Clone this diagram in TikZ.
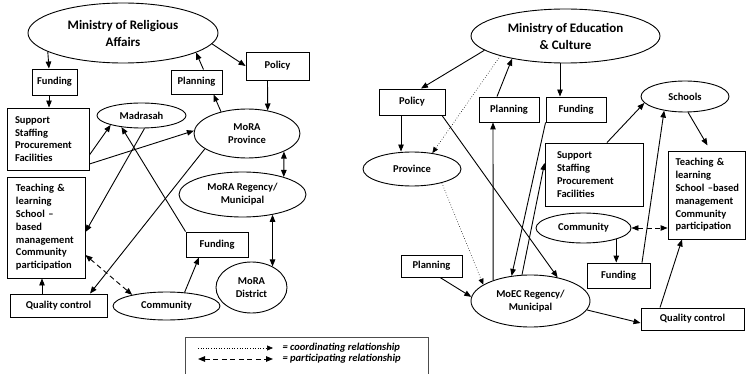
\documentclass[tikz,border=0pt]{standalone}
\usepackage{fontspec}
\setmainfont{Carlito}
\usetikzlibrary{shapes.geometric,arrows.meta,calc}
\begin{document}
\begin{tikzpicture}[x=1pt,y=-1pt,
 every node/.style={font=\fontsize{10.5}{12.8}\selectfont\bfseries},
 box/.style={draw,line width=0.9pt,inner sep=0pt,align=center},
 tbox/.style={draw,line width=0.9pt,inner xsep=8pt,inner ysep=0pt,align=left},
 ell/.style={draw,ellipse,line width=0.9pt,inner sep=0pt,align=center},
 title/.style={font=\fontsize{13}{17}\selectfont\bfseries},
 arr/.style={line width=0.9pt,-{Triangle[length=7pt,width=5.5pt]}},
 darr/.style={line width=0.9pt,{Triangle[length=7pt,width=5.5pt]}-{Triangle[length=7pt,width=5.5pt]}},
 dasharr/.style={darr,dash pattern=on 5pt off 3.5pt},
 dotarr/.style={line width=0.6pt,dotted,-{Triangle[length=6pt,width=5pt]}},
 legtext/.style={anchor=west,font=\fontsize{10.5}{12}\selectfont\bfseries\itshape},
]
\useasboundingbox (0,0) rectangle (747,374);

% ---------- left diagram ----------
\node[ell,title,minimum width=190,minimum height=60] (mra) at (123,33) {Ministry of Religious\\Affairs};
\node[box,minimum width=45,minimum height=26] (fund1) at (54.5,82) {Funding};
\node[box,minimum width=51,minimum height=24] (plan1) at (196.5,82) {Planning};
\node[box,minimum width=63,minimum height=28] (pol1) at (277.5,66) {Policy};
\node[tbox,text width=66,minimum height=62] (sup1) at (48,139) {Support\\Staffing\\Procurement\\Facilities};
\node[ell,minimum width=89,minimum height=25] (mad) at (141.5,115.5) {Madrasah};
\node[ell,minimum width=106,minimum height=49] (mprov) at (247,133.5) {MoRA\\Province};
\node[tbox,inner xsep=9,text width=60,minimum height=101] (teach1) at (46,227.5) {Teaching \&\\learning\\School –\\based\\management\\Community\\participation};
\node[box,minimum width=97,minimum height=23] (qc1) at (58.5,305.5) {Quality control};
\node[ell,minimum width=107,minimum height=28] (com1) at (166.5,306) {Community};
\node[box,minimum width=62,minimum height=25] (fund2) at (217,244.5) {Funding};
\node[ell,minimum width=127,minimum height=45] (mreg) at (242.5,194.5) {MoRA Regency/\\Municipal};
\node[ell,minimum width=71,minimum height=51] (mdist) at (251.5,287.5) {MoRA\\District};

\draw[arr] (mra.194) -- ([xshift=-5.5]fund1.north);
\draw[arr] ([xshift=-5.5]fund1.south) -- ([xshift=-5.5]fund1.south |- sup1.north);
\draw[arr] (mra.353) -- (pol1.west);
\draw[arr] ([xshift=7]plan1.north) -- (mra.-15.5);
\draw[arr] ([xshift=-10]pol1.south) -- (mprov.48.6);
\draw[arr] (mprov.140.8) -- ([xshift=17]plan1.south);
\draw[arr] ([yshift=-16]sup1.east) -- (mad.197);
\draw[arr] ([yshift=-25]sup1.east) -- (mprov.177);
\draw[arr] ([xshift=3]mad.south) -- ([yshift=-4.5]teach1.east);
\draw[arr] (fund2.north west) -- (mad.210.7);
\draw[arr] (mprov.200) -- ([xshift=31.5]qc1.north);
\draw[arr] ([xshift=-16.5]qc1.north) -- ([xshift=-16.5]qc1.north |- teach1.south);
\draw[dasharr] ([yshift=-27.5]teach1.east) -- (com1.162);
\draw[arr] (com1.37) -- ([xshift=-18]fund2.south);
\draw[darr] (mprov.-26.6) -- (mreg.23.1);
\draw[darr] (mreg.-34) -- (mdist.45.4);

% ---------- right diagram ----------
\node[ell,title,minimum width=189,minimum height=54] (moec) at (565.5,36) {Ministry of Education\\\& Culture};
\node[box,minimum width=66,minimum height=26] (pol2) at (412,102) {Policy};
\node[box,minimum width=60,minimum height=25] (plan2) at (509,109.5) {Planning};
\node[box,minimum width=60,minimum height=25] (fund3) at (576,109.5) {Funding};
\node[ell,minimum width=88,minimum height=31] (schools) at (685,96.5) {Schools};
\node[ell,minimum width=98,minimum height=34] (prov) at (412,169) {Province};
\node[tbox,inner xsep=12,text width=74,minimum height=63] (sup2) at (594,174.5) {Support\\Staffing\\Procurement\\Facilities};
\node[tbox,inner xsep=7.5,text width=62,minimum height=88] (teach2) at (706.5,195) {Teaching \&\\learning\\\mbox{School –based}\\management\\Community\\participation};
\node[ell,minimum width=95,minimum height=30] (com2) at (583.5,228) {Community};
\node[box,minimum width=63,minimum height=25] (fund4) at (618.5,275.5) {Funding};
\node[box,minimum width=61,minimum height=22] (plan3) at (431.5,266) {Planning};
\node[ell,minimum width=119,minimum height=52] (moreg) at (530.5,301) {MoEC Regency/\\Municipal};
\node[box,minimum width=103,minimum height=22] (qc2) at (692.5,319) {Quality control};

\draw[arr] (moec.190) -- ([xshift=9]pol2.north);
\draw[dotarr] (moec.197.5) -- (prov.38);
\draw[arr] ([xshift=-12]plan2.north) -- (moec.203);
\draw[arr] ([xshift=-16]fund3.north |- moec.south) -- ([xshift=-16]fund3.north);
\draw[arr] ([xshift=-11]pol2.south) -- ([xshift=-11]pol2.south |- prov.north);
\draw[arr] ([xshift=30]pol2.south) -- (moreg.41.3);
\draw[dotarr] (prov.-25) -- (moreg.161);
\draw[arr] (moreg.151.7) -- ([xshift=-16]plan2.south);
\draw[arr] (fund3.south west) -- (moreg.127);
\draw[arr] (moreg.108) -- ([yshift=11.5]sup2.west);
\draw[arr] ([xshift=13]sup2.north) -- (schools.189);
\draw[arr,shorten >=6pt] (schools.-79) -- ([xshift=4]teach2.north);
\draw[arr] ([xshift=23.5]fund4.north) -- (schools.214.6);
\draw[dasharr] (com2.east) -- (com2.east -| teach2.west);
\draw[arr] (com2.-19.6) -- (com2.-19.6 |- fund4.north);
\draw[arr] ([xshift=-32.5]qc2.north) -- ([xshift=-24.5]teach2.south);
\draw[arr] ([xshift=8.5]plan3.south) -- (moreg.176);
\draw[arr] (moreg.-9) -- ([yshift=-4]qc2.west);

% ---------- legend ----------
\node[draw,line width=0.6pt,black!70,minimum width=243,minimum height=45,anchor=north west,inner sep=0pt] (legend) at (185,337) {};
\coordinate (c1) at (198,348); \coordinate (c2) at (273,348);
\coordinate (d1) at (198,359); \coordinate (d2) at (273,359);
\draw[dotarr] (c1) -- (c2);
\draw[dasharr] (d1) -- (d2);
\node[legtext] (t1) at (279,348) {= coordinating relationship};
\node[legtext] (t2) at (279,359) {= participating relationship};
\end{tikzpicture}
\end{document}
